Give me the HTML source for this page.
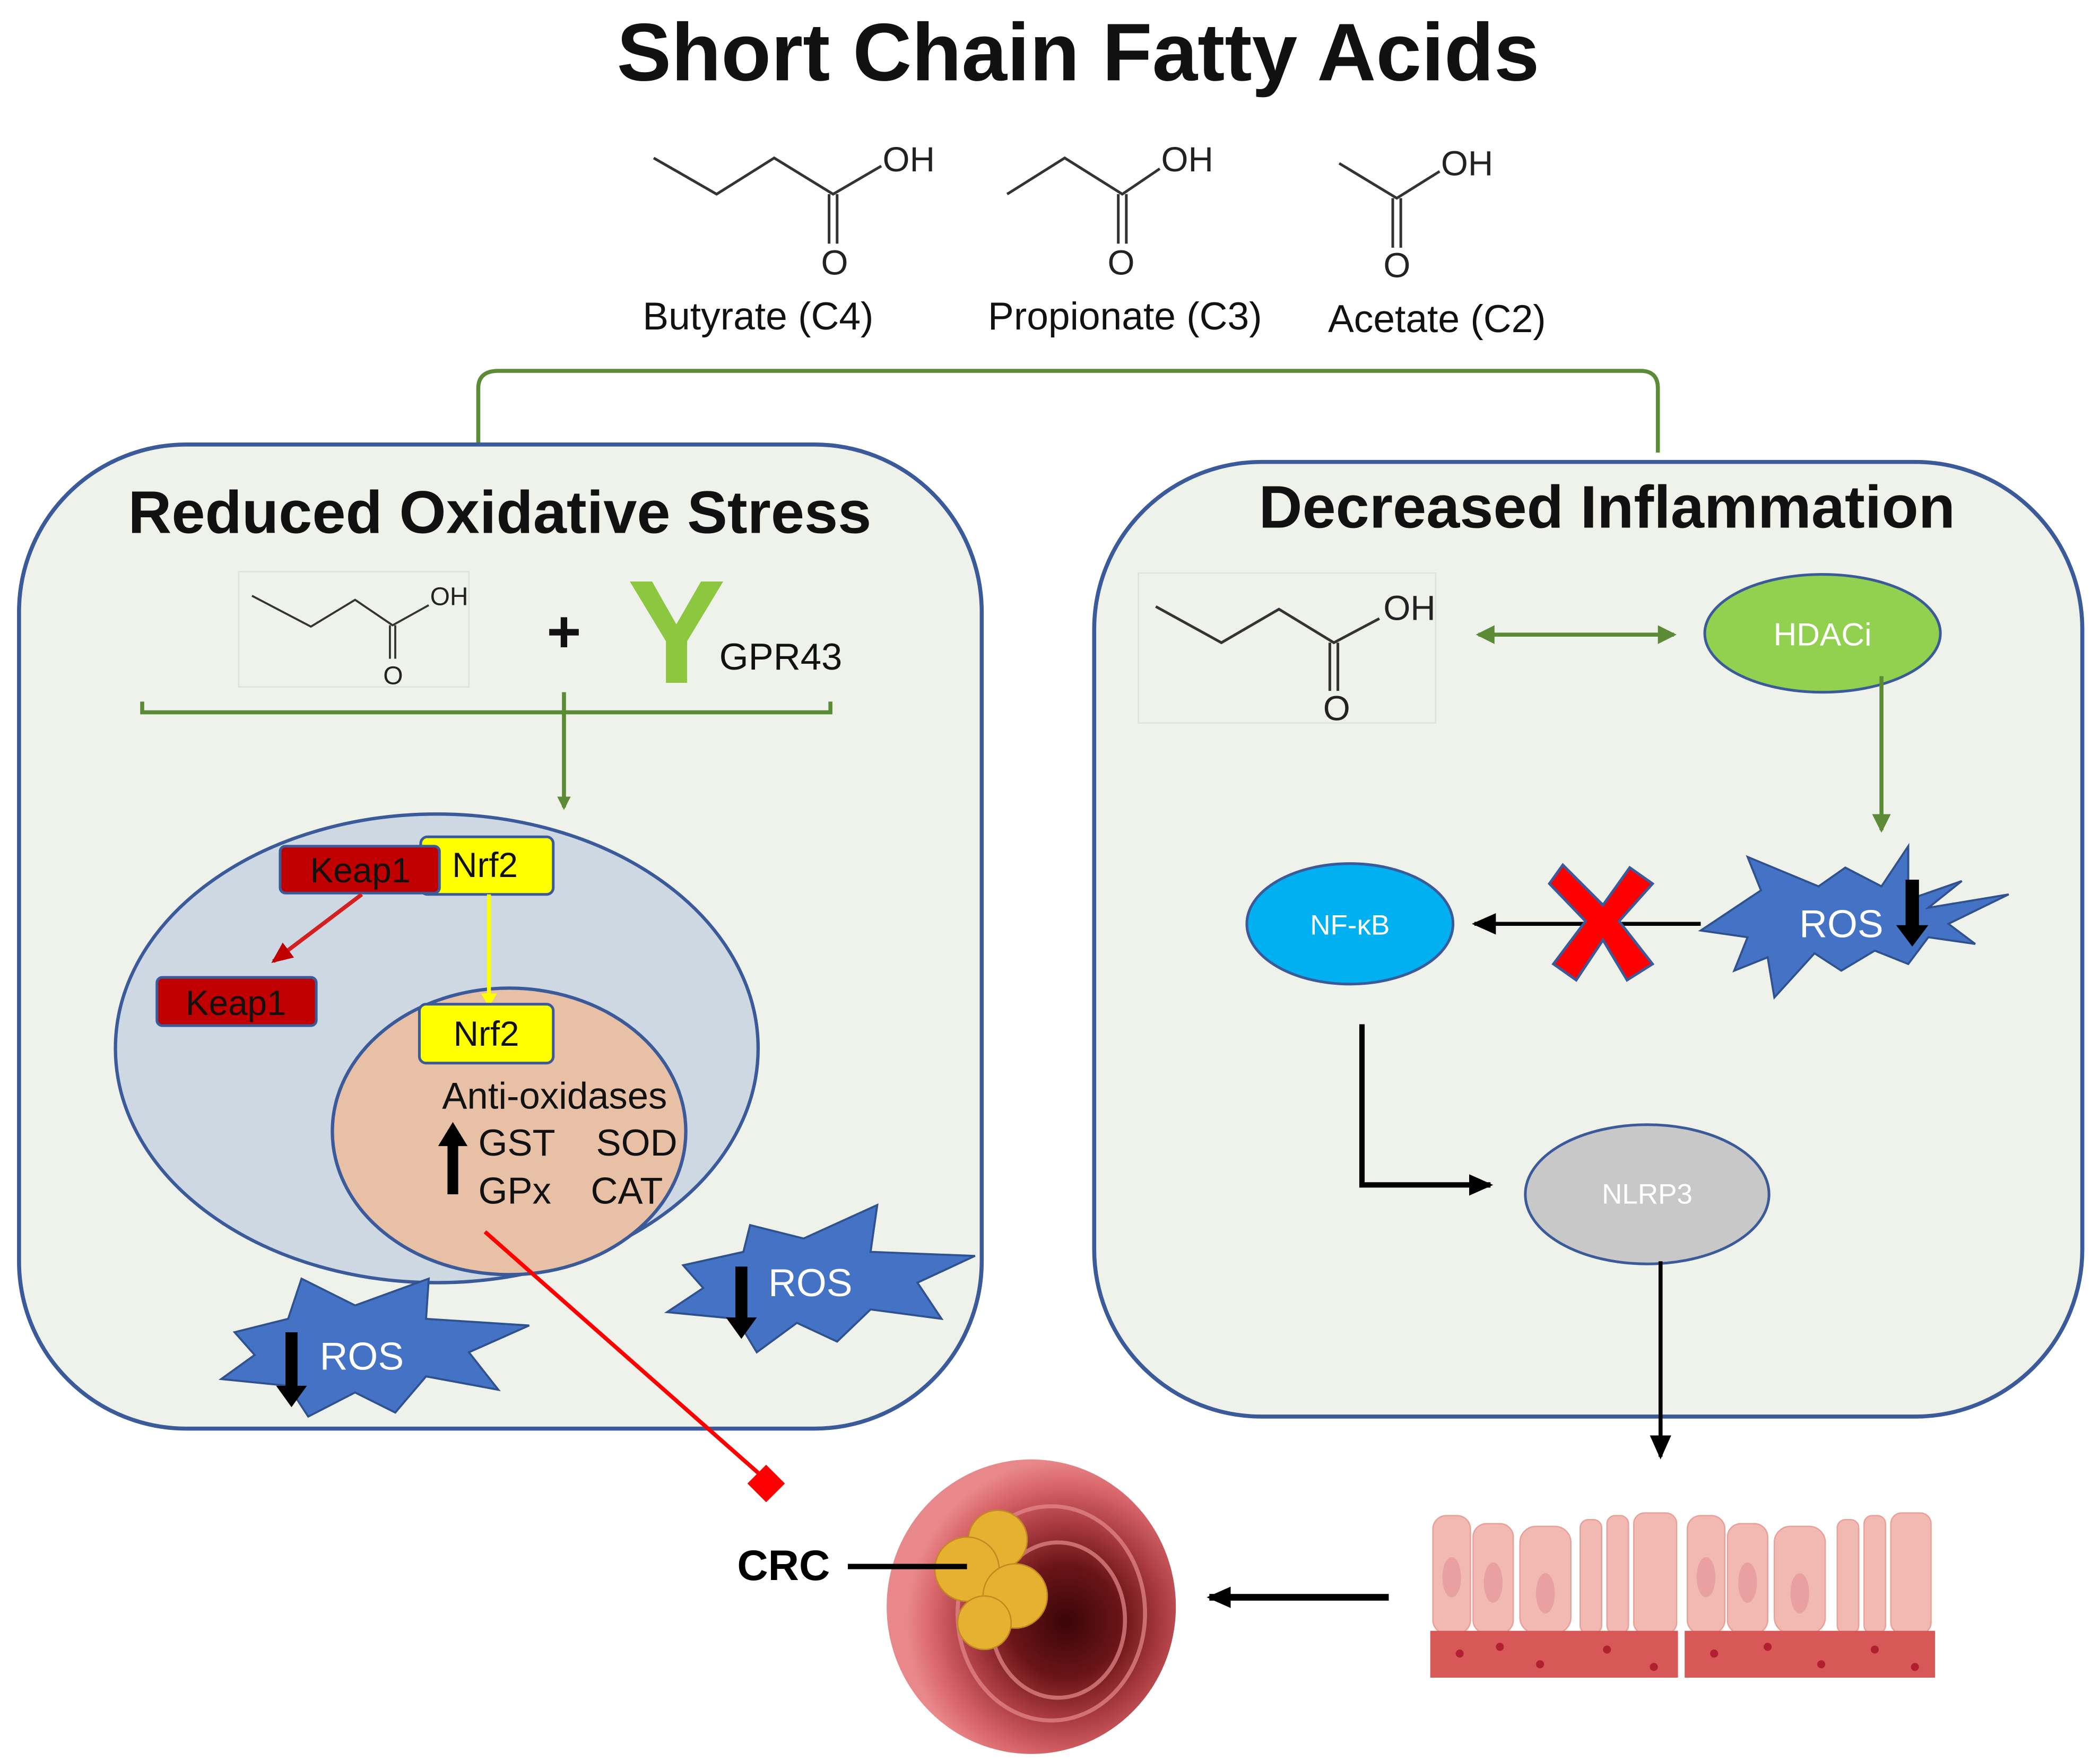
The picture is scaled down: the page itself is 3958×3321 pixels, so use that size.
<!DOCTYPE html>
<html><head><meta charset="utf-8"><style>html,body{margin:0;padding:0;background:#fff}svg{display:block}</style></head>
<body>
<svg xmlns="http://www.w3.org/2000/svg" width="3958" height="3321" viewBox="0 0 1568 1316" font-family="Liberation Sans, sans-serif">
<defs>
<marker id="ag" markerWidth="10" markerHeight="10" refX="8" refY="5" orient="auto" markerUnits="userSpaceOnUse"><path d="M0,0 L10,5 L0,10z" fill="#5b8c35"/></marker>
<marker id="agr" markerWidth="14" markerHeight="14" refX="12" refY="7" orient="auto-start-reverse" markerUnits="userSpaceOnUse"><path d="M0,0 L14,7 L0,14z" fill="#5b8c35"/></marker>
<marker id="ab" markerWidth="18" markerHeight="16" refX="16" refY="8" orient="auto" markerUnits="userSpaceOnUse"><path d="M0,0 L18,8 L0,16z" fill="#000"/></marker>
<marker id="ar" markerWidth="16" markerHeight="14" refX="14" refY="7" orient="auto" markerUnits="userSpaceOnUse"><path d="M0,0 L16,7 L0,14z" fill="#c00000"/></marker>
<radialGradient id="colon" cx="0.62" cy="0.55" r="0.55">
<stop offset="0" stop-color="#3a0508"/><stop offset="0.35" stop-color="#6b1518"/><stop offset="0.6" stop-color="#a83a40"/><stop offset="0.85" stop-color="#d9666a"/><stop offset="1" stop-color="#e8888a"/></radialGradient>
</defs>
<text x="805" y="60" text-anchor="middle" font-size="61" font-weight="bold" fill="#111">Short Chain Fatty Acids</text>
<g stroke="#333" stroke-width="2" fill="none">
<polyline points="488,118 535,145 578,118 622,145 658,124"/>
<line x1="619" y1="145" x2="619" y2="182"/><line x1="625" y1="145" x2="625" y2="182"/>
<polyline points="752,145 795,118 838,145 866,126"/>
<line x1="835" y1="145" x2="835" y2="182"/><line x1="841" y1="145" x2="841" y2="182"/>
<polyline points="1000,122 1043,148 1075,128"/>
<line x1="1040" y1="148" x2="1040" y2="185"/><line x1="1046" y1="148" x2="1046" y2="185"/>
</g>
<g font-size="26" fill="#222">
<text x="659" y="128">OH</text><text x="613" y="205">O</text>
<text x="867" y="128">OH</text><text x="827" y="205">O</text>
<text x="1076" y="131">OH</text><text x="1033" y="207">O</text>
</g>
<g font-size="29" fill="#111" text-anchor="middle">
<text x="566" y="246">Butyrate (C4)</text><text x="840" y="246">Propionate (C3)</text><text x="1073" y="248">Acetate (C2)</text>
</g>
<path d="M357,336 V290 Q357,277 372,277 H1225 Q1238,277 1238,290 V338" fill="none" stroke="#5b8c35" stroke-width="3"/>
<rect x="14" y="332" width="719" height="735" rx="125" fill="#eef2ea" stroke="#3a5a9a" stroke-width="3"/>
<rect x="817" y="345" width="738" height="713" rx="125" fill="#eef2ea" stroke="#3a5a9a" stroke-width="3"/>
<text x="373" y="398" text-anchor="middle" font-size="45" font-weight="bold" fill="#111">Reduced Oxidative Stress</text>
<text x="1200" y="394" text-anchor="middle" font-size="45" font-weight="bold" fill="#111">Decreased Inflammation</text>
<rect x="178" y="427" width="172" height="86" fill="none" stroke="#dde2da" stroke-width="1"/>
<g stroke="#333" stroke-width="1.5" fill="none">
<polyline points="188,445 232,468 265,448 293,467 320,452"/>
<line x1="291" y1="467" x2="291" y2="492"/><line x1="295" y1="467" x2="295" y2="492"/>
</g>
<text x="321" y="452" font-size="19" fill="#222">OH</text><text x="286" y="511" font-size="19" fill="#222">O</text>
<text x="421" y="487" text-anchor="middle" font-size="44" font-weight="bold" fill="#111">+</text>
<text x="505" y="510" text-anchor="middle" font-size="110" font-weight="bold" fill="#8dc63f">Y</text>
<text x="537" y="500" font-size="28" fill="#111">GPR43</text>
<path d="M106,524 V532 H620 V524" fill="none" stroke="#5b8c35" stroke-width="3"/>
<line x1="421" y1="517" x2="421" y2="603" stroke="#5b8c35" stroke-width="3" marker-end="url(#ag)"/>
<ellipse cx="326" cy="783" rx="240" ry="175" fill="#cdd8e2" stroke="#3a5a9a" stroke-width="2.5"/>
<ellipse cx="380" cy="845" rx="132" ry="107" fill="#e8c0a6" stroke="#3a5a9a" stroke-width="2.5"/>
<rect x="314" y="625" width="99" height="43" rx="5" fill="#ffff00" stroke="#3a5a9a" stroke-width="2"/>
<rect x="209" y="632" width="119" height="35" rx="4" fill="#c00000" stroke="#3a5a9a" stroke-width="2"/>
<text x="269" y="659" text-anchor="middle" font-size="26" fill="#111">Keap1</text>
<text x="362" y="655" text-anchor="middle" font-size="26" fill="#111">Nrf2</text>
<rect x="117" y="730" width="119" height="36" rx="4" fill="#c00000" stroke="#3a5a9a" stroke-width="2"/>
<text x="176" y="758" text-anchor="middle" font-size="26" fill="#111">Keap1</text>
<line x1="270" y1="668" x2="204" y2="718" stroke="#d42020" stroke-width="3" marker-end="url(#ar)"/>
<line x1="365" y1="668" x2="365" y2="750" stroke="#ffff00" stroke-width="3"/>
<path d="M359,742 L371,742 L365,752z" fill="#ffff00"/>
<rect x="313" y="750" width="100" height="44" rx="5" fill="#ffff00" stroke="#3a5a9a" stroke-width="2"/>
<text x="363" y="781" text-anchor="middle" font-size="26" fill="#111">Nrf2</text>
<g font-size="28" fill="#111">
<text x="330" y="828">Anti-oxidases</text>
<text x="357" y="863">GST</text><text x="445" y="863">SOD</text>
<text x="357" y="899">GPx</text><text x="441" y="899">CAT</text>
</g>
<path d="M338,838 L349,856 L342,856 L342,892 L334,892 L334,856 L327,856z" fill="#000"/>
<polygon points="175,995 215,985 225,955 265,975 320,955 318,985 395,990 350,1010 372,1038 318,1028 295,1055 265,1040 230,1058 215,1035 165,1030 190,1012" fill="#4472c4" stroke="#2f528f" stroke-width="1.5"/>
<path d="M213,995 h9 v40 h7 l-11.5,16 l-11.5,-16 h7z" fill="#000"/>
<text x="270" y="1023" text-anchor="middle" font-size="29" fill="#fff">ROS</text>
<polygon points="510,945 555,935 560,915 600,925 655,900 650,935 728,938 685,958 703,985 650,978 625,1002 595,988 565,1010 550,985 498,980 525,962" fill="#4472c4" stroke="#2f528f" stroke-width="1.5"/>
<path d="M549,946 h9 v38 h7 l-11.5,16 l-11.5,-16 h7z" fill="#000"/>
<text x="605" y="968" text-anchor="middle" font-size="29" fill="#fff">ROS</text>
<line x1="362" y1="920" x2="566" y2="1100" stroke="#ff0000" stroke-width="3"/>
<polygon points="572,1094 586,1108 572,1122 558,1108" fill="#ff0000"/>
<rect x="850" y="428" width="222" height="112" fill="none" stroke="#dde2da" stroke-width="1"/>
<g stroke="#333" stroke-width="2" fill="none">
<polyline points="863,453 912,480 955,455 996,480 1030,462"/>
<line x1="993" y1="480" x2="993" y2="516"/><line x1="999" y1="480" x2="999" y2="516"/>
</g>
<text x="1033" y="463" font-size="26" fill="#222">OH</text><text x="988" y="538" font-size="26" fill="#222">O</text>
<line x1="1104" y1="474" x2="1250" y2="474" stroke="#5b8c35" stroke-width="3" marker-start="url(#agr)" marker-end="url(#agr)"/>
<ellipse cx="1361" cy="473" rx="88" ry="44" fill="#92d050" stroke="#3a5a9a" stroke-width="2"/>
<text x="1361" y="482" text-anchor="middle" font-size="24" fill="#fff">HDACi</text>
<line x1="1405" y1="505" x2="1405" y2="620" stroke="#5b8c35" stroke-width="3" marker-end="url(#agr)"/>
<polygon points="1285,685 1315,665 1305,640 1358,662 1378,648 1405,662 1425,632 1425,672 1465,658 1440,678 1500,668 1455,690 1475,705 1440,700 1425,720 1400,710 1375,725 1355,712 1325,745 1320,715 1295,725 1305,700 1270,695" fill="#4472c4" stroke="#2f528f" stroke-width="1.5"/>
<text x="1375" y="700" text-anchor="middle" font-size="29" fill="#fff">ROS</text>
<path d="M1423,657 h10 v34 h7 l-12,16 l-12,-16 h7z" fill="#000"/>
<line x1="1270" y1="690" x2="1101" y2="690" stroke="#000" stroke-width="3" marker-end="url(#ab)"/>
<g transform="translate(1197,688)">
<path d="M-30,-42 L0,-12 L20,-40 L37,-28 L12,0 L37,32 L18,44 L0,14 L-20,44 L-37,32 L-13,0 L-40,-28z" fill="#ff0000" stroke="#3a5a9a" stroke-width="2"/>
</g>
<ellipse cx="1008" cy="690" rx="77" ry="45" fill="#00b0f0" stroke="#3a5a9a" stroke-width="2"/>
<text x="1008" y="698" text-anchor="middle" font-size="21" fill="#fff">NF-κB</text>
<polyline points="1017,765 1017,885 1113,885" fill="none" stroke="#000" stroke-width="4" marker-end="url(#ab)"/>
<ellipse cx="1230" cy="892" rx="91" ry="52" fill="#c8c8c8" stroke="#3a5a9a" stroke-width="2"/>
<text x="1230" y="899" text-anchor="middle" font-size="21" fill="#fff">NLRP3</text>
<line x1="1240" y1="942" x2="1240" y2="1088" stroke="#000" stroke-width="3" marker-end="url(#ab)"/>
<ellipse cx="770" cy="1200" rx="108" ry="110" fill="url(#colon)"/>
<g fill="none" stroke="#e58b8e" stroke-width="3" opacity="0.7">
<ellipse cx="785" cy="1205" rx="70" ry="80"/><ellipse cx="790" cy="1210" rx="50" ry="58"/>
</g>
<g fill="#e6b030" stroke="#c08a20" stroke-width="1">
<circle cx="745" cy="1150" r="22"/><circle cx="722" cy="1172" r="24"/><circle cx="758" cy="1192" r="24"/><circle cx="735" cy="1212" r="20"/>
</g>
<text x="585" y="1180" text-anchor="middle" font-size="32" font-weight="bold" fill="#000">CRC</text>
<line x1="633" y1="1170" x2="722" y2="1170" stroke="#000" stroke-width="4"/>
<line x1="1037" y1="1193" x2="903" y2="1193" stroke="#000" stroke-width="5" marker-end="url(#ab)"/>
<g>
<g fill="#f2b8b2" stroke="#e8a098" stroke-width="1">
<rect x="1070" y="1132" width="28" height="88" rx="10"/><rect x="1100" y="1138" width="30" height="82" rx="10"/><rect x="1135" y="1140" width="38" height="80" rx="12"/>
<rect x="1180" y="1135" width="16" height="85" rx="6"/><rect x="1200" y="1132" width="16" height="88" rx="6"/>
<rect x="1260" y="1132" width="28" height="88" rx="10"/><rect x="1290" y="1138" width="30" height="82" rx="10"/><rect x="1325" y="1140" width="38" height="80" rx="12"/>
<rect x="1372" y="1135" width="16" height="85" rx="6"/><rect x="1392" y="1132" width="16" height="88" rx="6"/><rect x="1412" y="1130" width="30" height="90" rx="8"/>
<rect x="1220" y="1130" width="32" height="90" rx="8"/>
</g>
<g fill="#e8a0a0"><ellipse cx="1084" cy="1178" rx="7" ry="15"/><ellipse cx="1115" cy="1182" rx="7" ry="15"/><ellipse cx="1154" cy="1190" rx="7" ry="15"/><ellipse cx="1274" cy="1178" rx="7" ry="15"/><ellipse cx="1305" cy="1182" rx="7" ry="15"/><ellipse cx="1344" cy="1190" rx="7" ry="15"/></g>
<rect x="1068" y="1218" width="185" height="35" fill="#d85858"/>
<rect x="1258" y="1218" width="187" height="35" fill="#d85858"/>
<g fill="#b02030"><circle cx="1090" cy="1235" r="3"/><circle cx="1120" cy="1230" r="3"/><circle cx="1150" cy="1243" r="3"/><circle cx="1200" cy="1232" r="3"/><circle cx="1235" cy="1245" r="3"/><circle cx="1280" cy="1235" r="3"/><circle cx="1320" cy="1230" r="3"/><circle cx="1360" cy="1243" r="3"/><circle cx="1400" cy="1232" r="3"/><circle cx="1430" cy="1245" r="3"/></g>
</g>
</svg>
</body></html>
